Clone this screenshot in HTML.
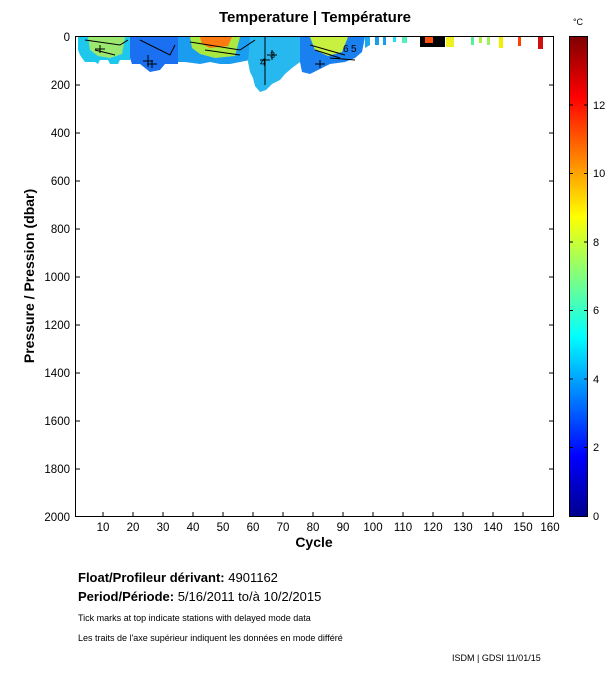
<!DOCTYPE html>
<html><head><meta charset="utf-8"><style>
body{margin:0;background:#fff;font-family:"Liberation Sans",sans-serif;}
</style></head><body>
<svg width="611" height="675" xmlns="http://www.w3.org/2000/svg" font-family="Liberation Sans, sans-serif">
<defs>
<linearGradient id="jet" x1="0" y1="1" x2="0" y2="0">
<stop offset="0" stop-color="#00008f"/>
<stop offset="0.125" stop-color="#0000ff"/>
<stop offset="0.375" stop-color="#00ffff"/>
<stop offset="0.625" stop-color="#ffff00"/>
<stop offset="0.875" stop-color="#ff0000"/>
<stop offset="1" stop-color="#800000"/>
</linearGradient>
</defs>
<text x="315" y="22" font-size="15" font-weight="bold" text-anchor="middle">Temperature | Température</text>
<!-- data -->
<g>
<polygon fill="#1ec8ec" points="78,37 130,37 130,60 120,60 118,64 110,64 108,60 100,60 98,64 95,62 85,62 82,58 80,55 78,50"/>
<polygon fill="#9be870" points="88,37 125,37 122,54 110,58 98,56 90,50"/>
<polygon fill="#1a70f0" points="130,37 178,37 178,64 165,64 160,70 150,72 145,68 140,64 132,64 130,58"/>
<polygon fill="#1a9cf0" points="178,37 250,37 250,60 240,62 230,64 220,64 210,62 200,64 185,62 178,62"/>
<polygon fill="#a8e840" points="190,37 240,37 235,56 215,58 200,54 192,48"/>
<polygon fill="#ff7a10" points="200,37 232,37 228,46 210,48 202,44"/>
<polygon fill="#28b8f0" points="250,37 300,37 300,62 292,68 285,74 280,80 272,84 266,90 260,92 255,86 253,78 250,72 248,62"/>
<polygon fill="#1a80f0" points="300,37 365,37 362,52 355,58 345,62 330,64 318,70 310,74 302,72 300,62"/>
<polygon fill="#c8f040" points="310,37 348,37 342,52 328,56 315,50"/>
<polygon fill="#1aa8f0" points="365,37 370,37 370,45 365,48"/>
<rect x="375" y="37" width="4" height="8" fill="#1a9cf0"/>
<rect x="383" y="37" width="3" height="8" fill="#1a9cf0"/>
<rect x="393" y="37" width="3" height="5" fill="#20e0f0"/>
<rect x="402" y="37" width="5" height="6" fill="#50f0c0"/>
<rect x="420" y="37" width="25" height="10" fill="#000"/>
<rect x="425" y="37" width="8" height="6" fill="#ff5010"/>
<rect x="446" y="37" width="8" height="10" fill="#f0f020"/>
<rect x="471" y="37" width="3" height="8" fill="#50f0a0"/>
<rect x="479" y="37" width="3" height="6" fill="#b0f040"/>
<rect x="487" y="37" width="3" height="8" fill="#a0f060"/>
<rect x="499" y="37" width="4" height="11" fill="#f0f000"/>
<rect x="518" y="37" width="3" height="9" fill="#ff4000"/>
<rect x="538" y="37" width="5" height="12" fill="#d01010"/>
<g stroke="#000" fill="none" stroke-width="1">
<path d="M85,40 L120,45 L128,40 M95,50 L115,55 M140,40 L170,55 L175,45 M190,42 L240,50 L255,40 M205,50 L240,55 M265,37 L265,85 M310,45 L345,55 M315,50 L340,58 M330,58 L355,60"/>
<path d="M148,55 v12 M143,61 h10 M265,55 v10 M260,60 h10 M272,50 v10 M267,55 h10 M320,60 v8 M315,64 h10 M152,60 v8 M147,64 h10 M100,45 v8 M95,49 h10"/>
</g>
<text x="260" y="66" font-size="11">4</text><text x="270" y="58" font-size="9">3</text>
<text x="343" y="52" font-size="10">6</text><text x="351" y="52" font-size="10">5</text>
</g>
<!-- axes -->
<rect x="75.5" y="36.5" width="478" height="480" fill="none" stroke="#000"/>
<g font-size="11.5" text-anchor="end">
<text x="70" y="41">0</text><text x="70" y="89">200</text><text x="70" y="137">400</text><text x="70" y="185">600</text><text x="70" y="233">800</text><text x="70" y="281">1000</text><text x="70" y="329">1200</text><text x="70" y="377">1400</text><text x="70" y="425">1600</text><text x="70" y="473">1800</text><text x="70" y="521">2000</text>
</g>
<g stroke="#000">
<path d="M76,85h4M76,133h4M76,181h4M76,229h4M76,277h4M76,325h4M76,373h4M76,421h4M76,469h4M553,85h-4M553,133h-4M553,181h-4M553,229h-4M553,277h-4M553,325h-4M553,373h-4M553,421h-4M553,469h-4"/>
<path d="M103,516v-4M133,516v-4M163,516v-4M193,516v-4M223,516v-4M253,516v-4M283,516v-4M313,516v-4M343,516v-4M373,516v-4M403,516v-4M433,516v-4M463,516v-4M493,516v-4M523,516v-4"/>
</g>
<g font-size="11.5" text-anchor="middle">
<text x="103" y="531">10</text><text x="133" y="531">20</text><text x="163" y="531">30</text><text x="193" y="531">40</text><text x="223" y="531">50</text><text x="253" y="531">60</text><text x="283" y="531">70</text><text x="313" y="531">80</text><text x="343" y="531">90</text><text x="373" y="531">100</text><text x="403" y="531">110</text><text x="433" y="531">120</text><text x="463" y="531">130</text><text x="493" y="531">140</text><text x="523" y="531">150</text><text x="550" y="531">160</text>
</g>
<text x="314" y="547" font-size="14" font-weight="bold" text-anchor="middle">Cycle</text>
<text transform="translate(34,276) rotate(-90)" font-size="14" font-weight="bold" text-anchor="middle">Pressure / Pression (dbar)</text>
<!-- colorbar -->
<rect x="569" y="37" width="19" height="479" fill="url(#jet)"/>
<rect x="569.5" y="36.5" width="18" height="480" fill="none" stroke="#000"/>
<g stroke="#000"><path d="M569,447.5h4M584,447.5h4M569,379h4M584,379h4M569,310.5h4M584,310.5h4M569,242h4M584,242h4M569,173.5h4M584,173.5h4M569,105h4M584,105h4"/></g>
<text x="578" y="25" font-size="9" text-anchor="middle">°C</text>
<g font-size="11">
<text x="593" y="520">0</text><text x="593" y="451">2</text><text x="593" y="383">4</text><text x="593" y="314">6</text><text x="593" y="246">8</text><text x="593" y="177">10</text><text x="593" y="109">12</text>
</g>
<g font-size="13">
<text x="78" y="582"><tspan font-weight="bold">Float/Profileur dérivant:</tspan> 4901162</text>
<text x="78" y="601"><tspan font-weight="bold">Period/Période:</tspan> 5/16/2011  to/à  10/2/2015</text>
</g>
<text x="78" y="621" font-size="9">Tick marks at top indicate stations with delayed mode data</text>
<text x="78" y="641" font-size="9">Les traits de l'axe supérieur indiquent les données en mode différé</text>
<text x="452" y="661" font-size="9">ISDM | GDSI  11/01/15</text>
</svg>
</body></html>
